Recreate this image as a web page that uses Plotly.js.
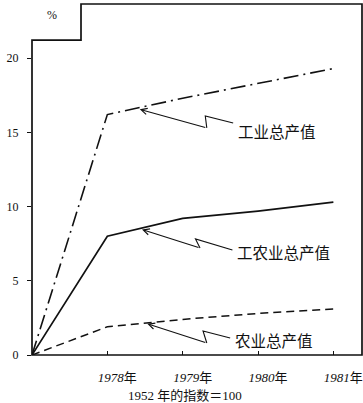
<!DOCTYPE html>
<html><head><meta charset="utf-8">
<script src="https://cdn.plot.ly/plotly-3.0.1.min.js"></script>
<style>html,body{margin:0;padding:0;background:#fff}#c{width:363px;height:403px}</style>
</head><body><div id="c"></div>
<script>
// Data (1952 index = 100, shown as multiples)
var years = [1977, 1978, 1979, 1980, 1981];
var industry = [0, 16.2, 17.3, 18.3, 19.3];      // 工业总产值
var total = [0, 8.0, 9.2, 9.7, 10.3];            // 工农业总产值
var agriculture = [0, 1.9, 2.4, 2.8, 3.1];       // 农业总产值
var xTickVals = [1978, 1979, 1980, 1981];
var xTickText = ['<i>1978</i>年', '<i>1979</i>年', '<i>1980</i>年', '<i>1981</i>年'];
var yTickVals = [0, 5, 10, 15, 20];
var seriesNames = ['工业总产值', '工农业总产值', '农业总产值'];

var serif = 'Liberation Serif, DejaVu Serif, Noto Sans CJK SC, serif';
var cjk = 'Noto Sans CJK SC, sans-serif';
var ink = '#111';

var traces = [
  {x: years, y: industry, mode: 'lines', name: seriesNames[0],
   line: {color: ink, width: 1.6, dash: '15px,5px,2px,5px'}},
  {x: years, y: total, mode: 'lines', name: seriesNames[1],
   line: {color: ink, width: 1.7}},
  {x: years, y: agriculture, mode: 'lines', name: seriesNames[2],
   line: {color: ink, width: 1.5, dash: '8px,5px'}}
];

// zigzag leader lines (label -> zig -> zag), arrow part drawn by annotations
var leaders = [
  {label: [1979.67, 15.63], zig: [1979.30, 16.10], zag: [1979.32, 15.30], tip: [1978.43, 16.55], text: seriesNames[0], ty: 15.1},
  {label: [1979.66, 7.08], zig: [1979.17, 7.82], zag: [1979.23, 7.21], tip: [1978.46, 8.45], text: seriesNames[1], ty: 6.95},
  {label: [1979.63, 1.15], zig: [1979.27, 1.62], zag: [1979.32, 0.81], tip: [1978.53, 2.10], text: seriesNames[2], ty: 1.0}
];

var shapes = [{
  type: 'path', xref: 'paper', yref: 'paper',
  path: 'M0,0 L0,0.897 L0.1485,0.897 L0.1485,1 L1,1 L1,0 Z',
  line: {color: ink, width: 1.7}, layer: 'above'
}];
var annotations = [
  {xref: 'paper', yref: 'paper', x: 0.062, y: 0.968, text: '%', showarrow: false,
   xanchor: 'center', yanchor: 'middle',
   font: {family: serif, size: 12, color: ink}},
  {xref: 'paper', yref: 'paper', x: 0.464, y: -0.114, text: '1952 年的指数＝100', showarrow: false,
   xanchor: 'center', yanchor: 'middle',
   font: {family: serif, size: 13, color: ink}}
];
leaders.forEach(function (L) {
  shapes.push({type: 'path', xref: 'x', yref: 'y',
    path: 'M' + L.label[0] + ',' + L.label[1] + ' L' + L.zig[0] + ',' + L.zig[1] + ' L' + L.zag[0] + ',' + L.zag[1],
    line: {color: ink, width: 1.1}});
  annotations.push({x: L.tip[0], y: L.tip[1], xref: 'x', yref: 'y', text: '',
    showarrow: true, ax: L.zag[0], ay: L.zag[1], axref: 'x', ayref: 'y',
    arrowhead: 5, arrowsize: 1.1, arrowwidth: 1.1, arrowcolor: ink, standoff: 0});
  annotations.push({x: L.label[0] + 0.04, y: L.ty, xref: 'x', yref: 'y', text: L.text,
    showarrow: false, xanchor: 'left', yanchor: 'middle',
    font: {family: cjk, size: 15.5, color: ink}});
});

var layout = {
  width: 363, height: 403,
  margin: {l: 32, r: 1, t: 4, b: 48},
  paper_bgcolor: '#fff', plot_bgcolor: '#fff',
  showlegend: false,
  xaxis: {range: [1977, 1981.38], showgrid: false, zeroline: false, showline: false,
    tickvals: xTickVals, ticktext: xTickText, ticks: 'inside', ticklen: 4, tickcolor: ink,
    ticklabelshift: 10, ticklabelstandoff: 13,
    tickfont: {family: serif, size: 13, color: ink}},
  yaxis: {range: [0, 23.65], showgrid: false, zeroline: false, showline: false,
    tickvals: yTickVals, ticks: 'outside', ticklen: 4, tickcolor: ink,
    ticklabelstandoff: 6,
    tickfont: {family: serif, size: 12, color: ink}},
  shapes: shapes,
  annotations: annotations
};
Plotly.newPlot('c', traces, layout, {staticPlot: true, displayModeBar: false});
</script></body></html>
